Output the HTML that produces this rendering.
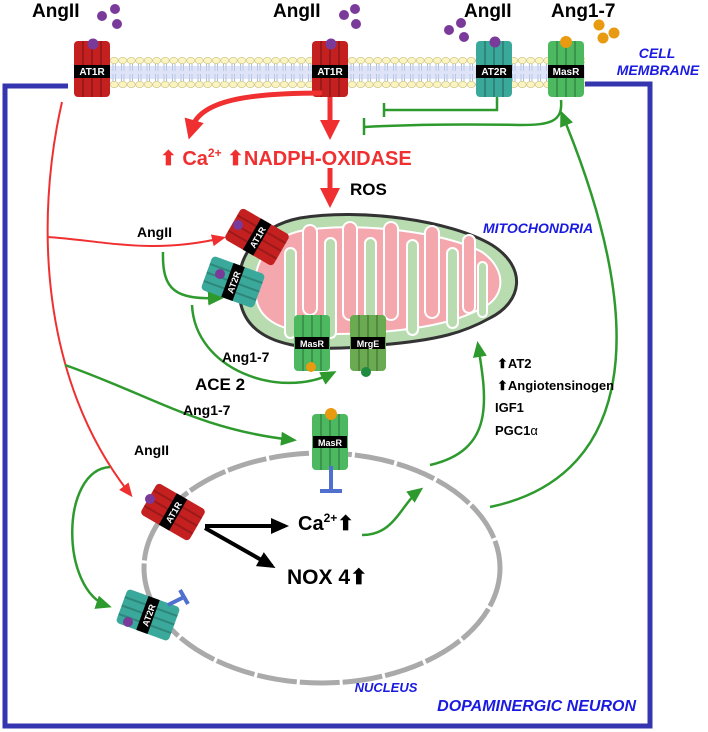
<!DOCTYPE html>
<html><head><meta charset="utf-8"><style>
body{margin:0;background:#fff}
svg{display:block;font-family:"Liberation Sans",sans-serif;font-weight:bold}
</style></head><body>
<svg width="708" height="732" viewBox="0 0 708 732" xmlns="http://www.w3.org/2000/svg">
<defs>
<marker id="ar" markerWidth="14" markerHeight="12" refX="10" refY="6" orient="auto" markerUnits="userSpaceOnUse"><path d="M0,0 L14,6 L0,12Z" fill="#f03030"/></marker>
<marker id="arR" markerWidth="20" markerHeight="20" refX="8" refY="10" orient="auto" markerUnits="userSpaceOnUse"><path d="M0,0 L20,10 L0,20Z" fill="#f03030"/></marker>
<marker id="ag" markerWidth="16" markerHeight="14" refX="12" refY="7" orient="auto" markerUnits="userSpaceOnUse"><path d="M0,0 L16,7 L0,14Z" fill="#2e9a2e"/></marker>
<marker id="ak" markerWidth="18" markerHeight="16" refX="14" refY="8" orient="auto" markerUnits="userSpaceOnUse"><path d="M0,0 L18,8 L0,16Z" fill="#000"/></marker>
<pattern id="lip" x="110" y="57" width="8.5" height="31" patternUnits="userSpaceOnUse">
<ellipse cx="4.2" cy="3.5" rx="4" ry="3.2" fill="#fbf4c0" stroke="#c8c080" stroke-width="0.6"/>
<ellipse cx="4.2" cy="27.5" rx="4" ry="3.2" fill="#fbf4c0" stroke="#c8c080" stroke-width="0.6"/>
<path d="M3,7 V14 M5.5,7 V14 M3,17 V24 M5.5,17 V24" stroke="#6a8fb0" stroke-width="0.6"/>
</pattern>
<g id="rc">
<rect x="-18" y="-28" width="36" height="56" rx="4"/>
<path d="M-9,-28V28 M0,-28V28 M9,-28V28" stroke="#0003" stroke-width="2"/>
</g>
</defs>

<!-- box -->
<path d="M68,86 H5 V726 H650 V84 H585" fill="none" stroke="#3535b0" stroke-width="5"/>
<!-- membrane -->
<rect x="110" y="57" width="475" height="31" fill="url(#lip)"/>
<rect x="110" y="66" width="475" height="13" fill="#c8d0f4" opacity="0.6"/>

<!-- top labels -->
<g font-size="19" fill="#000">
<text x="32" y="17">AngII</text>
<text x="273" y="17">AngII</text>
<text x="464" y="17">AngII</text>
<text x="551" y="17">Ang1-7</text>
</g>
<g fill="#7a3a9a"><circle cx="102" cy="16" r="5"/><circle cx="115" cy="9" r="5"/><circle cx="117" cy="24" r="5"/>
<circle cx="344" cy="15" r="5"/><circle cx="355" cy="9" r="5"/><circle cx="356" cy="24" r="5"/>
<circle cx="449" cy="30" r="5"/><circle cx="461" cy="23" r="5"/><circle cx="464" cy="37" r="5"/></g>
<g fill="#e89a10"><circle cx="599" cy="25" r="5.5"/><circle cx="603" cy="38" r="5.5"/><circle cx="614" cy="33" r="5.5"/></g>

<!-- membrane receptors -->
<g fill="#c42020"><use href="#rc" x="92" y="69"/><use href="#rc" x="330" y="69"/></g>
<use href="#rc" x="494" y="69" fill="#3aa89a"/>
<use href="#rc" x="566" y="69" fill="#4cb860"/>
<g fill="#7a3a9a"><circle cx="93" cy="44" r="5.5"/><circle cx="331" cy="44" r="5.5"/><circle cx="495" cy="42" r="5.5"/></g>
<circle cx="566" cy="42" r="6" fill="#e89a10"/>
<g font-size="10" fill="#fff">
<rect x="74" y="65" width="36" height="13" fill="#000"/><text x="92" y="75" text-anchor="middle">AT1R</text>
<rect x="312" y="65" width="36" height="13" fill="#000"/><text x="330" y="75" text-anchor="middle">AT1R</text>
<rect x="476" y="65" width="36" height="13" fill="#000"/><text x="494" y="75" text-anchor="middle">AT2R</text>
<rect x="548" y="65" width="36" height="13" fill="#000"/><text x="566" y="75" text-anchor="middle">MasR</text>
</g>
<text font-size="14" font-style="italic" fill="#1a1ae0" x="657" y="58" text-anchor="middle">CELL</text>
<text font-size="14" font-style="italic" fill="#1a1ae0" x="658" y="75" text-anchor="middle">MEMBRANE</text>

<!-- red top arrows -->
<path d="M322,93 C250,93 200,100 192,128" fill="none" stroke="#f03030" stroke-width="5" marker-end="url(#arR)"/>
<path d="M330,97 V128" stroke="#f03030" stroke-width="5" marker-end="url(#arR)"/>
<path d="M330,168 V196" stroke="#f03030" stroke-width="5" marker-end="url(#arR)"/>
<text font-size="20" fill="#f03030" x="160" y="165">⬆ Ca<tspan font-size="12" dy="-8">2+</tspan><tspan dy="8"> ⬆NADPH-OXIDASE</tspan></text>
<text font-size="17" x="350" y="195">ROS</text>

<!-- inhibition lines -->
<path d="M497,97 V110 H384" fill="none" stroke="#2e9a2e" stroke-width="2.5"/>
<path d="M384,103 V117" stroke="#2e9a2e" stroke-width="2.5"/>
<path d="M561,100 C563,122 550,125 520,125 C470,124 420,124 364,127" fill="none" stroke="#2e9a2e" stroke-width="2.5"/>
<path d="M364,118 V135" stroke="#2e9a2e" stroke-width="2.5"/>

<!-- mitochondria -->
<path d="M240,300 C232,258 258,226 300,218 C360,208 450,220 492,245 C528,268 522,302 490,318 C465,332 440,340 380,345 C320,352 248,352 240,300Z" fill="#b8dcb0" stroke="#333" stroke-width="3"/>
<path d="M256,298 C250,262 270,236 305,230 C360,222 445,232 482,252 C508,270 505,298 482,308 C460,320 430,328 380,332 C320,337 262,336 256,298Z" fill="#f4a8ae" stroke="#fff" stroke-width="2"/>
<g fill="#b8dcb0" stroke="#fff" stroke-width="2">
<rect x="285" y="248" width="11" height="90" rx="5.5"/><rect x="325" y="238" width="11" height="100" rx="5.5"/>
<rect x="365" y="238" width="11" height="100" rx="5.5"/><rect x="407" y="240" width="11" height="95" rx="5.5"/>
<rect x="447" y="248" width="11" height="80" rx="5.5"/><rect x="478" y="262" width="9" height="55" rx="4.5"/>
</g>
<g fill="#f4a8ae" stroke="#fff" stroke-width="2">
<rect x="303" y="225" width="14" height="90" rx="7"/><rect x="343" y="222" width="14" height="98" rx="7"/>
<rect x="384" y="222" width="14" height="98" rx="7"/><rect x="425" y="226" width="14" height="92" rx="7"/>
<rect x="463" y="235" width="12" height="78" rx="6"/>
</g>
<text font-size="14" font-style="italic" fill="#1a1ae0" x="483" y="233">MITOCHONDRIA</text>

<!-- mito receptors -->
<g transform="translate(257,237) rotate(-60)"><use href="#rc" fill="#c42020"/><rect x="-18" y="-6" width="36" height="12" fill="#000"/><text font-size="9" fill="#fff" y="4" text-anchor="middle">AT1R</text></g>
<circle cx="238" cy="225" r="5" fill="#7a3a9a"/>
<g transform="translate(233,282) rotate(-70)"><use href="#rc" fill="#3aa89a"/><rect x="-18" y="-6" width="36" height="12" fill="#000"/><text font-size="9" fill="#fff" y="4" text-anchor="middle">AT2R</text></g>
<circle cx="220" cy="274" r="5" fill="#7a3a9a"/>
<use href="#rc" x="312" y="343" fill="#4cb860"/>
<rect x="295" y="337" width="34" height="12" fill="#000"/><text font-size="9" fill="#fff" x="312" y="347" text-anchor="middle">MasR</text>
<circle cx="311" cy="367" r="5" fill="#e89a10"/>
<use href="#rc" x="368" y="343" fill="#6aaa50"/>
<rect x="351" y="337" width="34" height="12" fill="#000"/><text font-size="9" fill="#fff" x="368" y="347" text-anchor="middle">MrgE</text>
<circle cx="366" cy="372" r="5" fill="#1f8a40"/>

<!-- red left arrows -->
<path d="M62,102 C35,220 40,380 130,494" fill="none" stroke="#f03030" stroke-width="2" marker-end="url(#ar)"/>
<path d="M47,237 C100,240 150,255 222,238" fill="none" stroke="#f03030" stroke-width="2" marker-end="url(#ar)"/>

<!-- green mid arrows -->
<path d="M163,252 C162,290 175,300 220,298" fill="none" stroke="#2e9a2e" stroke-width="2.5" marker-end="url(#ag)"/>
<path d="M192,305 C195,370 280,400 333,373" fill="none" stroke="#2e9a2e" stroke-width="2.5" marker-end="url(#ag)"/>
<path d="M65,365 C150,395 200,430 293,440" fill="none" stroke="#2e9a2e" stroke-width="2.5" marker-end="url(#ag)"/>
<text font-size="14" x="137" y="237">AngII</text>
<text font-size="14" x="222" y="362">Ang1-7</text>
<text font-size="17" x="195" y="390">ACE 2</text>
<text font-size="14" x="183" y="415">Ang1-7</text>
<text font-size="14" x="134" y="455">AngII</text>

<!-- nucleus -->
<ellipse cx="322" cy="568" rx="178" ry="115" fill="none" stroke="#aaa" stroke-width="5" stroke-dasharray="40 3"/>
<text font-size="13" font-style="italic" fill="#1a1ae0" x="386" y="692" text-anchor="middle">NUCLEUS</text>

<!-- nucleus MasR -->
<use href="#rc" x="330" y="442" fill="#4cb860"/>
<rect x="313" y="436" width="34" height="12" fill="#000"/><text font-size="9" fill="#fff" x="330" y="446" text-anchor="middle">MasR</text>
<circle cx="331" cy="414" r="6" fill="#e89a10"/>
<path d="M331,466 V490 M320,491 H342" stroke="#5070d0" stroke-width="4"/>

<!-- nucleus AT1R -->
<g transform="translate(173,512) rotate(-60)"><use href="#rc" fill="#c42020"/><rect x="-18" y="-6" width="36" height="12" fill="#000"/><text font-size="9" fill="#fff" y="4" text-anchor="middle">AT1R</text></g>
<circle cx="150" cy="499" r="5" fill="#7a3a9a"/>
<!-- nucleus AT2R -->
<g transform="translate(148,615) rotate(-70)"><use href="#rc" fill="#3aa89a"/><rect x="-18" y="-6" width="36" height="12" fill="#000"/><text font-size="9" fill="#fff" y="4" text-anchor="middle">AT2R</text></g>
<circle cx="128" cy="622" r="5" fill="#7a3a9a"/>
<path d="M168,605 L184,597 M180,590 L188,604" stroke="#5070d0" stroke-width="4"/>

<path d="M110,467 C60,470 60,590 108,606" fill="none" stroke="#2e9a2e" stroke-width="2.5" marker-end="url(#ag)"/>

<!-- black arrows -->
<path d="M205,526 H285" stroke="#000" stroke-width="4" marker-end="url(#ak)"/>
<path d="M205,528 L272,566" stroke="#000" stroke-width="4" marker-end="url(#ak)"/>
<text font-size="20" x="298" y="530">Ca<tspan font-size="12" dy="-8">2+</tspan><tspan dy="8">⬆</tspan></text>
<text font-size="21" x="287" y="584">NOX 4⬆</text>

<!-- right green arrows -->
<path d="M362,535 C395,535 400,505 420,490" fill="none" stroke="#2e9a2e" stroke-width="2.5" marker-end="url(#ag)"/>
<path d="M430,465 C495,450 487,400 478,345" fill="none" stroke="#2e9a2e" stroke-width="2.5" marker-end="url(#ag)"/>
<path d="M490,507 C620,480 660,350 562,114" fill="none" stroke="#2e9a2e" stroke-width="2.5" marker-end="url(#ag)"/>
<g font-size="13">
<text x="497" y="368">⬆AT2</text>
<text x="497" y="390">⬆Angiotensinogen</text>
<text x="495" y="412">IGF1</text>
<text x="495" y="435">PGC1<tspan font-weight="normal">α</tspan></text>
</g>

<text font-size="16" font-style="italic" fill="#1a1ae0" x="636" y="711" text-anchor="end">DOPAMINERGIC NEURON</text>
</svg>
</body></html>
